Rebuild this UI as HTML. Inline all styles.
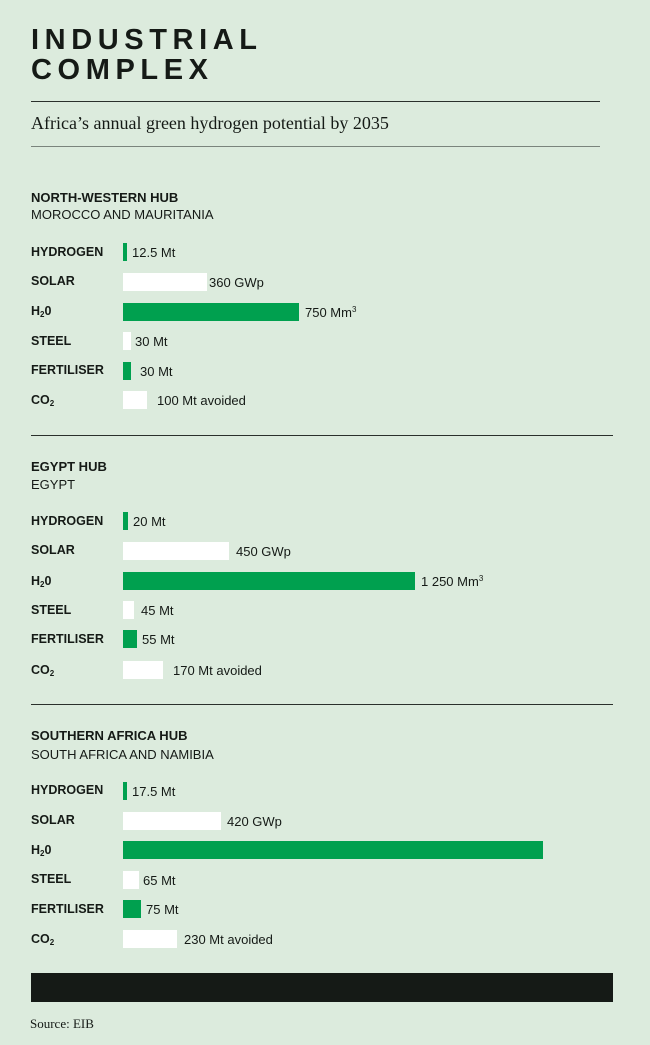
<!DOCTYPE html>
<html><head><meta charset="utf-8"><style>
body{margin:0;width:650px;height:1045px;background:#dcebdd;position:relative;overflow:hidden;font-family:"Liberation Sans",sans-serif;color:#151a16}
div{position:absolute;white-space:nowrap}
.t{left:31px;font-weight:bold;font-size:29px;letter-spacing:5.6px;line-height:30px}
.hr{left:31px;height:1px;background:#2a302b}
.h{left:31px;font-weight:bold;font-size:13px;line-height:16px}
.s{left:31px;font-size:13px;line-height:16px}
.l{left:31px;font-weight:bold;font-size:12.5px;line-height:16px}
.v{font-size:13px;line-height:16px}
.b{left:123px;height:18px}
.g{background:#00a04f}.w{background:#fff}
sub{font-size:8px;vertical-align:-2px;line-height:0}
sup{font-size:8px;vertical-align:5px;line-height:0}
</style></head><body>
<div class="t" style="top:25px">INDUSTRIAL</div>
<div class="t" style="top:55px">COMPLEX</div>
<div class="hr" style="top:101px;width:569px"></div>
<div style="left:31px;top:113px;font-family:'Liberation Serif',serif;font-size:18px;line-height:20px">Africa’s annual green hydrogen potential by 2035</div>
<div class="hr" style="top:146px;width:569px;background:#7a847c"></div>

<div class="h" style="top:190px">NORTH-WESTERN HUB</div>
<div class="s" style="top:207px">MOROCCO AND MAURITANIA</div>
<div class="l" style="top:244px">HYDROGEN</div><div class="b g" style="top:243px;width:4px"></div><div class="v" style="left:132px;top:245px">12.5 Mt</div>
<div class="l" style="top:273px">SOLAR</div><div class="b w" style="top:273px;width:84px"></div><div class="v" style="left:209px;top:275px">360 GWp</div>
<div class="l" style="top:303px">H<sub>2</sub>0</div><div class="b g" style="top:303px;width:176px"></div><div class="v" style="left:305px;top:305px">750 Mm<sup>3</sup></div>
<div class="l" style="top:333px">STEEL</div><div class="b w" style="top:332px;width:8px"></div><div class="v" style="left:135px;top:334px">30 Mt</div>
<div class="l" style="top:362px">FERTILISER</div><div class="b g" style="top:362px;width:8px"></div><div class="v" style="left:140px;top:364px">30 Mt</div>
<div class="l" style="top:392px">CO<sub>2</sub></div><div class="b w" style="top:391px;width:24px"></div><div class="v" style="left:157px;top:393px">100 Mt avoided</div>
<div class="hr" style="top:435px;width:582px"></div>

<div class="h" style="top:459px">EGYPT HUB</div>
<div class="s" style="top:477px">EGYPT</div>
<div class="l" style="top:513px">HYDROGEN</div><div class="b g" style="top:512px;width:5px"></div><div class="v" style="left:133px;top:514px">20 Mt</div>
<div class="l" style="top:542px">SOLAR</div><div class="b w" style="top:542px;width:106px"></div><div class="v" style="left:236px;top:544px">450 GWp</div>
<div class="l" style="top:573px">H<sub>2</sub>0</div><div class="b g" style="top:572px;width:292px"></div><div class="v" style="left:421px;top:574px">1 250 Mm<sup>3</sup></div>
<div class="l" style="top:602px">STEEL</div><div class="b w" style="top:601px;width:11px"></div><div class="v" style="left:141px;top:603px">45 Mt</div>
<div class="l" style="top:631px">FERTILISER</div><div class="b g" style="top:630px;width:14px"></div><div class="v" style="left:142px;top:632px">55 Mt</div>
<div class="l" style="top:662px">CO<sub>2</sub></div><div class="b w" style="top:661px;width:40px"></div><div class="v" style="left:173px;top:663px">170 Mt avoided</div>
<div class="hr" style="top:704px;width:582px"></div>

<div class="h" style="top:728px">SOUTHERN AFRICA HUB</div>
<div class="s" style="top:747px">SOUTH AFRICA AND NAMIBIA</div>
<div class="l" style="top:782px">HYDROGEN</div><div class="b g" style="top:782px;width:4px"></div><div class="v" style="left:132px;top:784px">17.5 Mt</div>
<div class="l" style="top:812px">SOLAR</div><div class="b w" style="top:812px;width:98px"></div><div class="v" style="left:227px;top:814px">420 GWp</div>
<div class="l" style="top:842px">H<sub>2</sub>0</div><div class="b g" style="top:841px;width:420px"></div>
<div class="l" style="top:871px">STEEL</div><div class="b w" style="top:871px;width:16px"></div><div class="v" style="left:143px;top:873px">65 Mt</div>
<div class="l" style="top:901px">FERTILISER</div><div class="b g" style="top:900px;width:18px"></div><div class="v" style="left:146px;top:902px">75 Mt</div>
<div class="l" style="top:931px">CO<sub>2</sub></div><div class="b w" style="top:930px;width:54px"></div><div class="v" style="left:184px;top:932px">230 Mt avoided</div>

<div style="left:31px;top:973px;width:582px;height:29px;background:#151a16"></div>
<div style="left:30px;top:1016px;font-family:'Liberation Serif',serif;font-size:13px;line-height:15px">Source: EIB</div>
</body></html>
